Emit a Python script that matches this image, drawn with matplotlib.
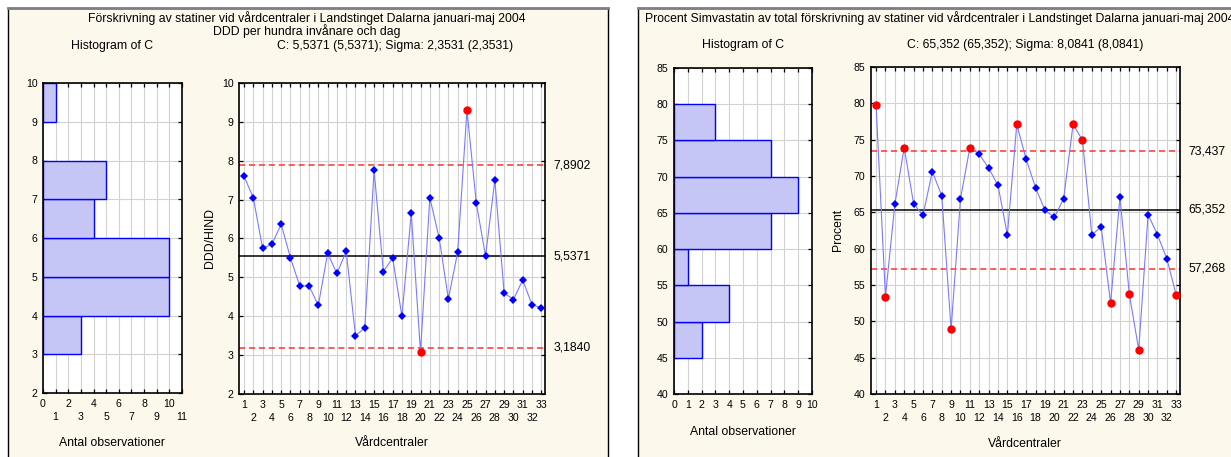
import numpy as np
from matplotlib import pyplot as plt
import matplotlib.patches as patches
from matplotlib.lines import Line2D

plt.rcParams['font.family'] = ['Liberation Sans', 'DejaVu Sans']

# data
centres = np.arange(1, 34)
ddd = [7.6, 7.05, 5.75, 5.85, 6.37, 5.5, 4.78, 4.78, 4.28, 5.62, 5.1, 5.67,
       3.5, 3.7, 7.75, 5.15, 5.5, 4.0, 6.65, 3.08, 7.05, 6.02, 4.45, 5.65,
       9.3, 6.92, 5.55, 7.5, 4.6, 4.43, 4.93, 4.3, 4.22]
ddd_limits = [3.1840, 5.5371, 7.8902]
ddd_labels = ['3,1840', '5,5371', '7,8902']

simva = [79.8, 53.4, 66.1, 73.9, 66.2, 64.6, 70.6, 67.3, 48.9, 66.9, 73.9, 73.0,
         71.1, 68.7, 61.9, 77.1, 72.3, 68.4, 65.3, 64.3, 66.9, 77.1, 74.95, 61.9,
         63.0, 52.5, 67.1, 53.7, 46.1, 64.7, 61.9, 58.6, 53.6]
simva_limits = [57.268, 65.352, 73.437]
simva_labels = ['57,268', '65,352', '73,437']

W, H = 1231, 457
BG = '#fdf8ec'
GRID = '#d2d2d2'
BAR = '#c6c6f6'
BLUE = '#0000ff'
FS = 8.8
TS = 7.6


def px_axes(fig, x0, y0, x1, y1):
	# pixel box -> figure axes
	return fig.add_axes([x0 / W, 1 - y1 / H, (x1 - x0) / W, (y1 - y0) / H])


def ftext(fig, x, y, s, **kw):
	fig.text(x / W, 1 - y / H, s, **kw)


def style_axes(ax):
	ax.set_facecolor('white')
	for sp in ax.spines.values():
		sp.set_linewidth(1.2)
		sp.set_color('black')
	ax.tick_params(which='both', direction='in', length=3, width=0.9,
	               labelsize=TS, top=True, right=True, pad=4)
	ax.grid(True, which='both', color=GRID, linewidth=0.8)
	ax.set_axisbelow(True)


def two_row_xticks(ax, first, second):
	# first row as major ticks, second row as minor ticks pushed down
	ax.set_xticks(first)
	ax.set_xticklabels([str(i) for i in first])
	ax.set_xticks(second, minor=True)
	ax.set_xticklabels([str(i) for i in second], minor=True)
	ax.tick_params(axis='x', which='minor', pad=4 + 9.5)


def draw_hist(fig, box, vals, bins, xmax, two_rows, ylim, ystep):
	ax = px_axes(fig, *box)
	style_axes(ax)
	counts, edges = np.histogram(vals, bins=bins)
	for c, e0, e1 in zip(counts, edges[:-1], edges[1:]):
		if c > 0:
			ax.barh(e0, c, height=e1 - e0, align='edge', color=BAR,
			        edgecolor=BLUE, linewidth=1.0, zorder=2)
	ax.set_xlim(0, xmax)
	ax.set_ylim(*ylim)
	if two_rows:
		two_row_xticks(ax, np.arange(0, xmax + 1, 2), np.arange(1, xmax + 1, 2))
	else:
		ax.set_xticks(np.arange(0, xmax + 1))
	ax.set_yticks(np.arange(ylim[0], ylim[1] + 0.01, ystep))
	return ax


def draw_chart(fig, box, vals, limits, labels, ylim, ystep):
	ax = px_axes(fig, *box)
	style_axes(ax)
	lcl, cl, ucl = limits
	ax.axhline(cl, color='black', linewidth=1.1, zorder=2)
	ax.axhline(ucl, color='#ff3030', linewidth=1.1, linestyle=(0, (4, 2.5)), zorder=2)
	ax.axhline(lcl, color='#ff3030', linewidth=1.1, linestyle=(0, (4, 2.5)), zorder=2)
	v = np.array(vals)
	ax.plot(centres, v, color='#7a7aff', linewidth=0.8, zorder=3)
	out = (v > ucl) | (v < lcl)
	ax.plot(centres[~out], v[~out], 'D', color=BLUE, markersize=4.2,
	        markeredgewidth=0, zorder=4)
	ax.plot(centres[out], v[out], 'o', color='#ff0000', markersize=6,
	        markeredgewidth=0, zorder=4)
	ax.set_xlim(0.46, 33.4)
	ax.set_ylim(*ylim)
	two_row_xticks(ax, centres[::2], centres[1::2])
	ax.set_yticks(np.arange(ylim[0], ylim[1] + 0.01, ystep))
	for val, lab in zip(limits, labels):
		ax.annotate(lab, xy=(1, val), xycoords=('axes fraction', 'data'),
		            xytext=(6, 0), textcoords='offset points',
		            fontsize=FS, va='center', ha='left')
	return ax


fig = plt.figure(figsize=(W / 100, H / 100), dpi=100)

# panel backgrounds
for x0, x1 in [(8, 608), (638, 1240)]:
	fig.patches.append(patches.Rectangle((x0 / W, -0.1), (x1 - x0) / W, 1.1 - 8 / H,
	                   transform=fig.transFigure, facecolor=BG, edgecolor='black',
	                   linewidth=1.0, zorder=-5))
	fig.lines.append(Line2D([x0 / W, x1 / W], [1 - 8 / H, 1 - 8 / H],
	                 transform=fig.transFigure, color='#808080', linewidth=2.0,
	                 zorder=-4))

# ---- left panel ----
ftext(fig, 307, 18, 'Förskrivning av statiner vid vårdcentraler i Landstinget Dalarna januari-maj 2004',
      fontsize=FS, ha='center', va='center')
ftext(fig, 307, 31, 'DDD per hundra invånare och dag', fontsize=FS, ha='center', va='center')
ftext(fig, 112, 46, 'Histogram of C', fontsize=FS, ha='center', va='center')
ftext(fig, 395, 46, 'C: 5,5371 (5,5371); Sigma: 2,3531 (2,3531)', fontsize=FS, ha='center', va='center')

draw_hist(fig, (43, 83, 182, 393), ddd, np.arange(3, 11, 1.0), 11, True, (2, 10), 1)
ftext(fig, 112, 443, 'Antal observationer', fontsize=FS, ha='center', va='center')

draw_chart(fig, (239, 83, 545, 394), ddd, ddd_limits, ddd_labels, (2, 10), 1)
ftext(fig, 392, 443, 'Vårdcentraler', fontsize=FS, ha='center', va='center')
ftext(fig, 210, 238, 'DDD/HIND', fontsize=FS, ha='center', va='center', rotation=90)

# ---- right panel ----
ftext(fig, 645, 18, 'Procent Simvastatin av total förskrivning av statiner vid vårdcentraler i Landstinget Dalarna januari-maj 2004',
      fontsize=FS, ha='left', va='center')
ftext(fig, 743, 45, 'Histogram of C', fontsize=FS, ha='center', va='center')
ftext(fig, 1025, 45, 'C: 65,352 (65,352); Sigma: 8,0841 (8,0841)', fontsize=FS, ha='center', va='center')

draw_hist(fig, (674, 68, 812, 394), simva, np.arange(45, 81, 5.0), 10, False, (40, 85), 5)
ftext(fig, 743, 432, 'Antal observationer', fontsize=FS, ha='center', va='center')

draw_chart(fig, (871, 67, 1180, 394), simva, simva_limits, simva_labels, (40, 85), 5)
ftext(fig, 1025, 444, 'Vårdcentraler', fontsize=FS, ha='center', va='center')
ftext(fig, 838, 230, 'Procent', fontsize=FS, ha='center', va='center', rotation=90)

fig.savefig('out.png', dpi=100, facecolor='white')
